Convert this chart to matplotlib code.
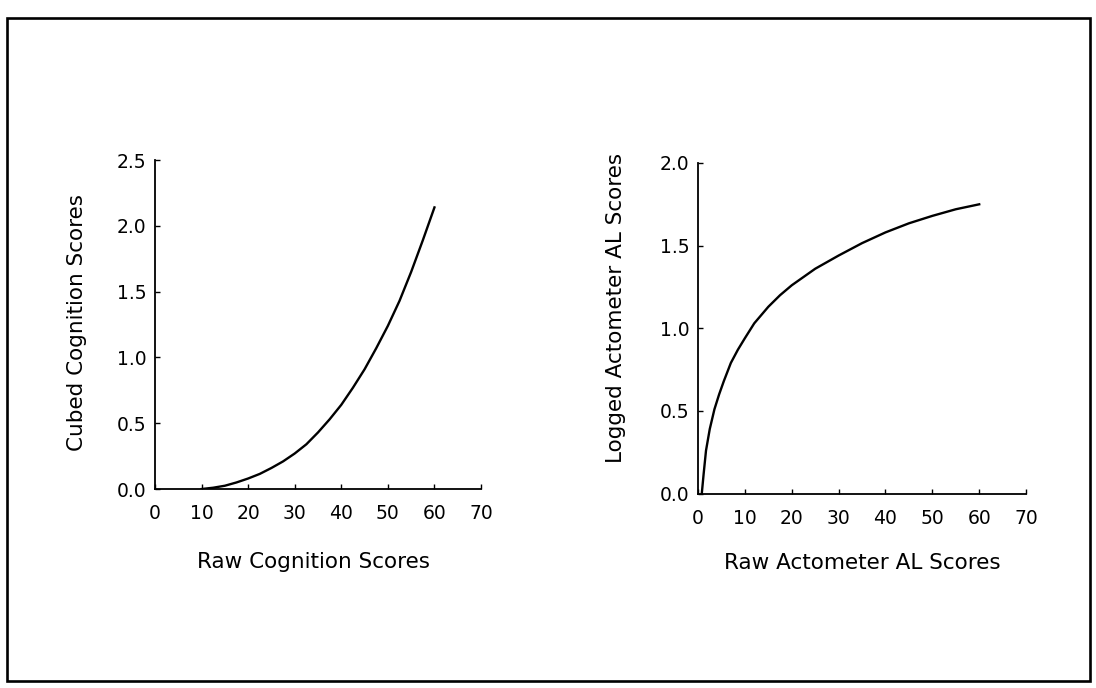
import matplotlib
matplotlib.use('Agg')
import matplotlib.pyplot as plt
from matplotlib.patches import Rectangle
from matplotlib.ticker import FormatStrFormatter

plt.rcParams['font.family'] = 'DejaVu Sans'

# -------------------------
# data
# -------------------------
raw_cognition = [10, 12.5, 15, 17.5, 20, 22.5, 25, 27.5, 30, 32.5, 35,
                 37.5, 40, 42.5, 45, 47.5, 50, 52.5, 55, 57.5, 60]
cubed_cognition = [0.00, 0.01, 0.025, 0.05, 0.08, 0.115, 0.16, 0.21, 0.27, 0.34, 0.43,
                   0.53, 0.64, 0.77, 0.91, 1.07, 1.24, 1.43, 1.65, 1.89, 2.14]

raw_actometer = [0.8, 1.2, 1.7, 2.5, 3.5, 4.5, 5.5, 7, 8.5, 10, 12, 15, 17.5,
                 20, 25, 30, 35, 40, 45, 50, 55, 60]
logged_actometer = [0.00, 0.12, 0.26, 0.39, 0.51, 0.60, 0.68, 0.79, 0.87, 0.94,
                    1.03, 1.13, 1.20, 1.26, 1.36, 1.44, 1.515, 1.58, 1.635, 1.68,
                    1.72, 1.75]

x_ticks = [0, 10, 20, 30, 40, 50, 60, 70]
left_yticks = [0.0, 0.5, 1.0, 1.5, 2.0, 2.5]
right_yticks = [0.0, 0.5, 1.0, 1.5, 2.0]

fig = plt.figure(figsize=(10.96, 6.88), dpi=100)

# outer box round the whole figure
fig.patches.append(Rectangle((0.0064, 0.0102), 0.988, 0.9637, transform=fig.transFigure,
                             fill=False, edgecolor='black', linewidth=1.9))

ax1 = fig.add_axes([0.1414, 0.2892, 0.2975, 0.4782])
ax2 = fig.add_axes([0.6369, 0.2827, 0.2993, 0.4804])


def style_axis(ax, yticks):
    for side in ['top', 'right']:
        ax.spines[side].set_visible(False)
    for side in ['left', 'bottom']:
        ax.spines[side].set_linewidth(1.3)
        ax.spines[side].set_color('black')
    ax.set_xlim(0, 70)
    ax.set_ylim(0, yticks[-1])
    ax.set_xticks(x_ticks)
    ax.set_yticks(yticks)
    ax.yaxis.set_major_formatter(FormatStrFormatter('%.1f'))
    ax.tick_params(axis='both', direction='in', length=3.5, width=1.0,
                   labelsize=13.5, colors='black')
    ax.tick_params(axis='x', pad=11)
    ax.tick_params(axis='y', pad=6)
    ax.patch.set_alpha(0)


style_axis(ax1, left_yticks)
ax1.plot(raw_cognition, cubed_cognition, color='black', linewidth=1.7)
ax1.set_xlabel('Raw Cognition Scores', fontsize=15.5)
ax1.set_ylabel('Cubed Cognition Scores', fontsize=15.5)
ax1.xaxis.set_label_coords(0.485, -0.19)
ax1.yaxis.set_label_coords(-0.21, 0.505)

style_axis(ax2, right_yticks)
ax2.plot(raw_actometer, logged_actometer, color='black', linewidth=1.7)
ax2.set_xlabel('Raw Actometer AL Scores', fontsize=15.5)
ax2.set_ylabel('Logged Actometer AL Scores', fontsize=15.5)
ax2.xaxis.set_label_coords(0.5, -0.18)
ax2.yaxis.set_label_coords(-0.22, 0.56)

fig.savefig('out.png', dpi=100)
